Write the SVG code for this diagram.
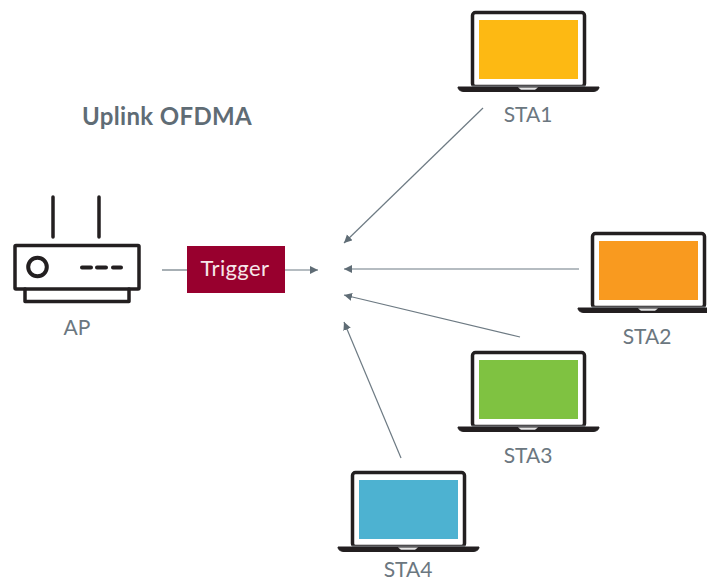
<svg xmlns="http://www.w3.org/2000/svg" width="707" height="582" viewBox="0 0 707 582">
<style>
text{font-family:"Lato","Noto Sans",sans-serif;font-weight:400;fill:#6b7780;font-size:21px;text-anchor:middle}
.k{fill:none;stroke:#231f20;stroke-width:3.500;stroke-linecap:round;stroke-linejoin:round}
.c{fill:none;stroke:#6d7a83;stroke-width:1.200;marker-end:url(#a)}
</style>
<defs>
<marker id="a" markerUnits="userSpaceOnUse" markerWidth="10" markerHeight="10" refX="8" refY="4" orient="auto"><path d="M0 0L8 4L0 8Z" fill="#5f6c75"/></marker>
<g id="lap">
<rect x="-6.500" y="-7.500" width="112" height="74" rx="3" fill="#fff" stroke="#231f20" stroke-width="3.500"/>
<path d="M-21 67H120C120 70 117 71.500 114 71.500H-15C-18 71.500-21 70-21 67Z" fill="#231f20" stroke="#231f20" stroke-width="1"/>
<path d="M39 67.500H59L56 69.800H42Z" fill="#e6e6e6"/>
<rect x="-8" y="65.600" width="115" height="1" fill="#8a8f92"/>
</g>
</defs>
<text x="167" y="125" style="font-size:24px;font-weight:700;letter-spacing:.35px;fill:#5f6c75">Uplink OFDMA</text>
<g id="connectors">
<path d="M162 270H187" class="c" style="marker-end:none"/>
<path d="M285 270H318" class="c"/>
<path d="M483 108L344 243" class="c"/>
<path d="M579 269H344" class="c"/>
<path d="M520 337L344 295" class="c"/>
<path d="M401 458L344 322" class="c"/>
</g>
<g id="ap">
<path d="M53 197V237M99 197V237" class="k"/>
<rect x="15" y="245.500" width="124" height="43.500" rx="1" class="k"/>
<path d="M25 289V301.500H129V289" class="k"/>
<circle cx="37.500" cy="267" r="9.300" fill="none" stroke="#231f20" stroke-width="4"/>
<path d="M82 267.500H91M97 267.500H106M113 267.500H121" fill="none" stroke="#231f20" stroke-width="4" stroke-linecap="round"/>
<text x="77" y="335">AP</text>
</g>
<g id="trigger">
<rect x="187" y="246" width="98" height="47" fill="#98002e"/>
<text x="235" y="276" style="fill:#f6e6ea;font-size:22px;letter-spacing:.4px">Trigger</text>
</g>
<g id="sta1">
<use href="#lap" x="479" y="20"/>
<rect x="479" y="20" width="99" height="59" fill="#fdb913"/>
<text x="528" y="122">STA1</text>
</g>
<g id="sta2">
<use href="#lap" x="599" y="241"/>
<rect x="599" y="241" width="99" height="59" fill="#f99a1f"/>
<text x="647" y="344">STA2</text>
</g>
<g id="sta3">
<use href="#lap" x="479" y="360"/>
<rect x="479" y="360" width="99" height="59" fill="#7fc241"/>
<text x="528" y="463">STA3</text>
</g>
<g id="sta4">
<use href="#lap" x="359" y="480"/>
<rect x="359" y="480" width="99" height="59" fill="#4db2d1"/>
<text x="408" y="577">STA4</text>
</g>
</svg>
